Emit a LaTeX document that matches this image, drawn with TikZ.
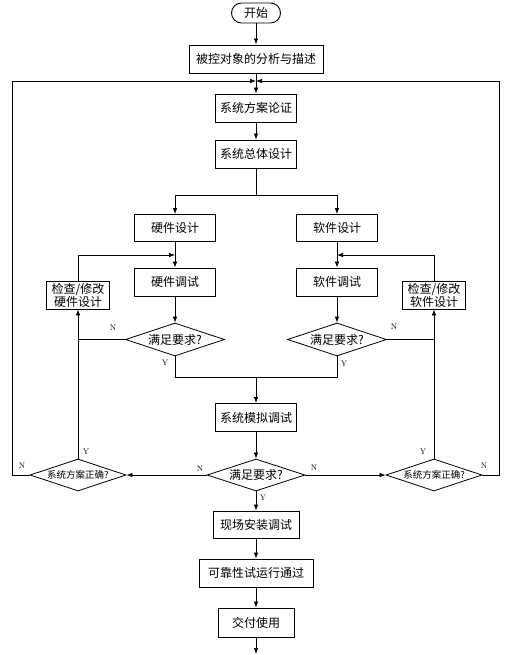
\documentclass[tikz,border=0pt]{standalone}
\usepackage{fontspec}
\newfontfamily\cjk{Noto Sans CJK SC}
\usetikzlibrary{shapes.geometric,arrows.meta}
\begin{document}
\begin{tikzpicture}[x=1pt,y=-1pt,
  line width=0.7pt,
  arr/.style={-{Latex[length=6pt,width=4.5pt]}},
  box/.style={draw,line width=0.9pt,inner sep=0pt,minimum height=28pt,font=\cjk\fontsize{12}{13}\selectfont,align=center},
  term/.style={box,rounded corners=10pt,minimum height=20pt,minimum width=49pt},
  dia/.style={draw,line width=0.8pt,diamond,aspect=3,inner sep=0pt,font=\cjk\fontsize{12}{13}\selectfont},
  sdia/.style={dia,font=\cjk\fontsize{9.5}{11}\selectfont},
  yn/.style={font=\fontsize{8}{9}\selectfont,inner sep=0pt}
]
\useasboundingbox (0,0) rectangle (509,655);
% nodes
\node[term] (start) at (256,13) {开始};
\node[box,minimum width=134pt] (b1) at (256,59) {被控对象的分析与描述};
\node[box,minimum width=81pt] (b2) at (256,108) {系统方案论证};
\node[box,minimum width=81pt] (b3) at (256,154) {系统总体设计};
\node[box,minimum width=81pt,minimum height=27pt] (hw) at (175,228) {硬件设计};
\node[box,minimum width=81pt,minimum height=27pt] (sw) at (337,228) {软件设计};
\node[box,minimum width=81pt] (ht) at (175,282) {硬件调试};
\node[box,minimum width=81pt] (st) at (337,282) {软件调试};
\node[box,minimum width=63pt] (hc) at (78,295) {检查/修改\\硬件设计};
\node[box,minimum width=63pt] (sc) at (434,295) {检查/修改\\软件设计};
\node[dia,minimum width=99pt,minimum height=33pt] (hd) at (175,339.5) {满足要求?};
\node[dia,minimum width=99pt,minimum height=33pt] (sd) at (337,339.5) {满足要求?};
\node[box,minimum width=81pt] (sim) at (256,417.5) {系统模拟调试};
\node[dia,minimum width=98pt,minimum height=32pt] (cd) at (256,475) {满足要求?};
\node[sdia,minimum width=96pt,minimum height=32pt] (ld) at (78,475) {系统方案正确?};
\node[sdia,minimum width=96pt,minimum height=32pt] (rd) at (434,475) {系统方案正确?};
\node[box,minimum width=86pt,minimum height=27pt] (inst) at (256,524.5) {现场安装调试};
\node[box,minimum width=114pt] (rel) at (256,573) {可靠性试运行通过};
\node[box,minimum width=76pt,minimum height=29pt] (del) at (256,622.5) {交付使用};
% coordinates
\coordinate (jtop) at (256,81);
\coordinate (split) at (256,195);
\coordinate (hj) at (175,255);
\coordinate (sj) at (337,255);
\coordinate (mj) at (256,377);
\coordinate (endp) at (256,654);
% connectors
\draw[arr] (start) -- (b1);
\draw[arr] (b1) -- (b2);
\draw[arr] (b2) -- (b3);
\draw (b3) -- (split);
\draw[arr] (split) -| (hw);
\draw[arr] (split) -| (sw);
\draw[arr] (hw) -- (ht);
\draw[arr] (sw) -- (st);
\draw[arr] (hc.north) |- (hj);
\draw[arr] (sc.north) |- (sj);
\draw[arr] (ht) -- (hd);
\draw[arr] (st) -- (sd);
\draw (hd.west) -- (hc.south |- hd.west);
\draw (sd.east) -- (sc.south |- sd.east);
\draw[arr] (ld.north) -- (hc.south);
\draw[arr] (rd.north) -- (sc.south);
\draw (hd.south) |- (mj);
\draw (sd.south) |- (mj);
\draw[arr] (mj) -- (sim);
\draw[arr] (sim) -- (cd);
\draw[arr] (cd.west) -- (ld.east);
\draw[arr] (cd.east) -- (rd.west);
\draw[arr] (ld.west) -| (12,81) -- (jtop);
\draw[arr] (rd.east) -| (499,81) -- (jtop);
\draw[arr] (cd.south) -- (inst);
\draw[arr] (inst) -- (rel);
\draw[arr] (rel) -- (del);
\draw[arr] (del) -- (endp);
% labels
\node[yn] (n1) at (113,328) {N};
\node[yn] (y1) at (165,363) {Y};
\node[yn] (n2) at (394,327) {N};
\node[yn] (y2) at (344,364) {Y};
\node[yn] (y3) at (86,452) {Y};
\node[yn] (n3) at (22,466) {N};
\node[yn] (n4) at (200,469) {N};
\node[yn] (n5) at (314,468) {N};
\node[yn] (y4) at (423,452) {Y};
\node[yn] (n6) at (484,466) {N};
\node[yn] (y5) at (263,498) {Y};
\end{tikzpicture}
\end{document}
